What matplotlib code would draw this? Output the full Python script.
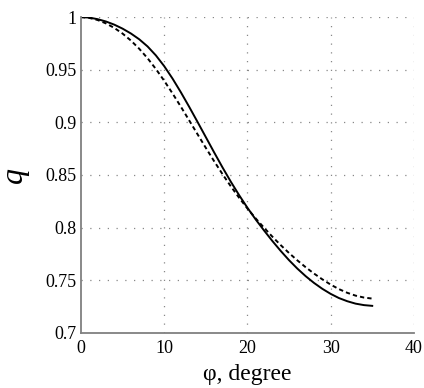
import numpy as np
import matplotlib.pyplot as plt

plt.rcParams['font.family'] = ['Liberation Serif', 'DejaVu Serif']

# angle grid (degrees) and the two q(phi) curves
phi = list(range(36))
q_solid = [1.000, 0.9995, 0.998, 0.9958, 0.9928, 0.989, 0.9844, 0.9789, 0.9721,
           0.9636, 0.9534, 0.9416, 0.9286, 0.9148, 0.9005, 0.886, 0.8715, 0.8573,
           0.8437, 0.8309, 0.8189, 0.8077, 0.7973, 0.7873, 0.7779, 0.7691, 0.7611,
           0.7539, 0.7475, 0.7419, 0.7371, 0.7331, 0.7301, 0.7278, 0.7264, 0.7257]
q_dashed = [1.000, 0.9992, 0.9972, 0.994, 0.9897, 0.9843, 0.9777, 0.9699, 0.9609,
            0.9507, 0.9395, 0.9275, 0.9149, 0.9019, 0.8888, 0.8758, 0.8631, 0.8509,
            0.8393, 0.8284, 0.8182, 0.8087, 0.7999, 0.7914, 0.7834, 0.7759, 0.7689,
            0.7624, 0.7564, 0.7509, 0.7459, 0.7416, 0.7381, 0.7354, 0.7336, 0.7326]

xticks = [0, 10, 20, 30, 40]
yticks = [0.7, 0.75, 0.8, 0.85, 0.9, 0.95, 1.0]
ytick_labels = ['0.7', '0.75', '0.8', '0.85', '0.9', '0.95', '1']

fig = plt.figure(figsize=(4.24, 3.88), dpi=100)
ax = fig.add_axes([0.191, 0.142, 0.785, 0.814])

ax.plot(phi, q_solid, color='black', lw=1.4, solid_joinstyle='round')
ax.plot(phi, q_dashed, color='black', lw=1.4, linestyle=(0, (2.2, 1.6)))

ax.set_xlim(0, 40)
ax.set_ylim(0.7, 1.0)
ax.set_xticks(xticks)
ax.set_yticks(yticks)
ax.set_yticklabels(ytick_labels)

# dotted grid, drawn as plain lines so the border ones show too
for x in xticks[1:]:
    ax.axvline(x, color='#888888', lw=0.9, linestyle=(0, (1, 6)), zorder=0)
for y in yticks[1:]:
    ax.axhline(y, color='#888888', lw=0.9, linestyle=(0, (1, 6)), zorder=0)

for s in ['top', 'right']:
    ax.spines[s].set_visible(False)
for s in ['left', 'bottom']:
    ax.spines[s].set_color('#808080')
    ax.spines[s].set_linewidth(1.3)

ax.tick_params(length=0, labelsize=13, pad=3)
ax.tick_params(axis='x', pad=5)

ax.set_xlabel('φ, degree', fontsize=17, labelpad=5)
ax.set_ylabel('q', fontsize=23, style='italic', labelpad=12)

fig.savefig('out.png', dpi=100)
